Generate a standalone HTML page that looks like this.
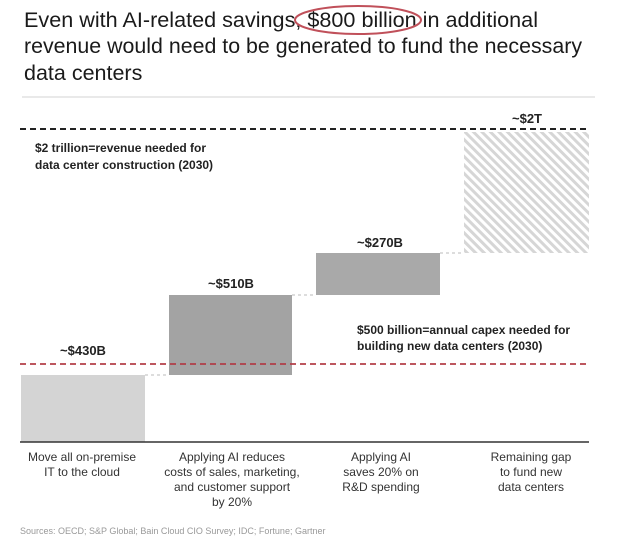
<!DOCTYPE html>
<html><head><meta charset="utf-8"><style>
body{margin:0;background:#fff;width:620px;height:545px;overflow:hidden;font-family:"Liberation Sans",sans-serif}
</style></head><body>
<svg width="620" height="545" xmlns="http://www.w3.org/2000/svg" font-family="Liberation Sans, sans-serif">
<defs><pattern id="h" width="6" height="6" patternUnits="userSpaceOnUse" patternTransform="rotate(-45)"><rect width="6" height="6" fill="#fff"/><rect width="3" height="6" fill="#d6d6d6"/></pattern></defs>
<g font-size="21.5" fill="#1a1a1a">
<text x="24" y="27" textLength="514" lengthAdjust="spacingAndGlyphs">Even with AI-related savings, $800 billion in additional</text>
<text x="24" y="53" textLength="558" lengthAdjust="spacingAndGlyphs">revenue would need to be generated to fund the necessary</text>
<text x="24" y="80">data centers</text>
</g>
<ellipse cx="358" cy="20" rx="63" ry="14" fill="none" stroke="#c0505a" stroke-width="2"/>
<line x1="22" y1="97" x2="595" y2="97" stroke="#e2e2e2" stroke-width="1.5"/>
<line x1="20" y1="129" x2="589" y2="129" stroke="#222" stroke-width="2" stroke-dasharray="6,4"/>
<text x="527" y="123" font-size="13" font-weight="bold" text-anchor="middle" fill="#222">~$2T</text>
<rect x="464" y="132" width="125" height="121" fill="url(#h)"/>
<text x="35" y="152" font-size="12" font-weight="bold" fill="#222">$2 trillion=revenue needed for</text>
<text x="35" y="169" font-size="12" font-weight="bold" fill="#222">data center construction (2030)</text>
<rect x="316" y="253" width="124" height="42" fill="#a9a9a9"/>
<rect x="169" y="295" width="123" height="80" fill="#a3a3a3"/>
<rect x="21" y="375" width="124" height="67" fill="#d4d4d4"/>
<g stroke="#bbb" stroke-width="1" stroke-dasharray="3,3"><line x1="145" y1="375" x2="169" y2="375"/><line x1="292" y1="295" x2="316" y2="295"/><line x1="440" y1="253" x2="464" y2="253"/></g>
<line x1="20" y1="364" x2="589" y2="364" stroke="#b23a44" stroke-width="2" stroke-dasharray="6,4" opacity="0.85"/>
<g font-size="13" font-weight="bold" fill="#222" text-anchor="middle">
<text x="83" y="355">~$430B</text><text x="231" y="288">~$510B</text><text x="380" y="247">~$270B</text></g>
<text x="357" y="334" font-size="12" font-weight="bold" fill="#222">$500 billion=annual capex needed for</text>
<text x="357" y="350" font-size="12" font-weight="bold" fill="#222">building new data centers (2030)</text>
<line x1="20" y1="442" x2="589" y2="442" stroke="#333" stroke-width="1.5"/>
<g font-size="12" fill="#333" text-anchor="middle">
<text x="82" y="461">Move all on-premise</text><text x="82" y="476">IT to the cloud</text>
<text x="232" y="461">Applying AI reduces</text><text x="232" y="476">costs of sales, marketing,</text><text x="232" y="491">and customer support</text><text x="232" y="506">by 20%</text>
<text x="381" y="461">Applying AI</text><text x="381" y="476">saves 20% on</text><text x="381" y="491">R&amp;D spending</text>
<text x="531" y="461">Remaining gap</text><text x="531" y="476">to fund new</text><text x="531" y="491">data centers</text>
</g>
<text x="20" y="534" font-size="9" fill="#999">Sources: OECD; S&amp;P Global; Bain Cloud CIO Survey; IDC; Fortune; Gartner</text>
</svg>
</body></html>
